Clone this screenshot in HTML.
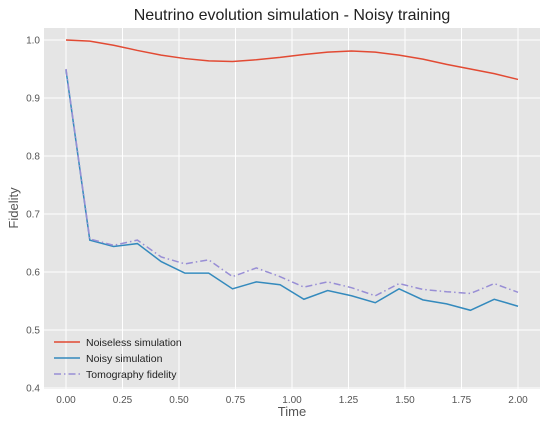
<!DOCTYPE html>
<html><head><meta charset="utf-8"><style>
body{margin:0;background:#fff;font-family:"Liberation Sans",sans-serif}
svg text{font-family:"Liberation Sans",sans-serif}
</style></head><body>
<svg id="chart" width="548" height="427" xmlns="http://www.w3.org/2000/svg">
<rect x="0" y="0" width="548" height="427" fill="#fff"/>
<text x="292" y="20" text-anchor="middle" font-size="16" fill="#222">Neutrino evolution simulation - Noisy training</text>
<rect x="44" y="28" width="496" height="361" fill="#E5E5E5"/>
<g id="grid"></g><g id="series"></g><g id="ticks"></g>
<text x="292" y="416" text-anchor="middle" font-size="13" fill="#555">Time</text>
<text x="18" y="208" text-anchor="middle" font-size="13" fill="#555" transform="rotate(-90 18 208)">Fidelity</text>
<g>
<line x1="54" y1="342" x2="80" y2="342" stroke="#E24A33" stroke-width="1.5"/>
<text x="86" y="346" font-size="10.5" fill="#222">Noiseless simulation</text>
<line x1="54" y1="358" x2="80" y2="358" stroke="#348ABD" stroke-width="1.5"/>
<text x="86" y="362" font-size="10.5" fill="#222">Noisy simulation</text>
<line x1="54" y1="374" x2="80" y2="374" stroke="#988ED5" stroke-width="1.5" stroke-dasharray="7,3,1.5,3"/>
<text x="86" y="378" font-size="10.5" fill="#222">Tomography fidelity</text>
</g>
</svg>
<script>
const times = Array.from({length:20},(_, i)=>i*2/19);
const noiseless = [1.0,0.998,0.991,0.982,0.974,0.968,0.964,0.963,0.966,0.970,0.975,0.979,0.981,0.979,0.974,0.967,0.958,0.950,0.942,0.932];
const noisy = [0.948,0.655,0.644,0.649,0.618,0.598,0.598,0.571,0.583,0.578,0.553,0.568,0.559,0.547,0.571,0.552,0.545,0.534,0.553,0.541];
const tomography = [0.950,0.657,0.646,0.655,0.626,0.614,0.621,0.592,0.607,0.592,0.574,0.583,0.573,0.559,0.580,0.570,0.566,0.563,0.580,0.565];
const xTicks = [0,0.25,0.5,0.75,1.0,1.25,1.5,1.75,2.0];
const xTickLabels = ["0.00","0.25","0.50","0.75","1.00","1.25","1.50","1.75","2.00"];
const yTicks = [0.4,0.5,0.6,0.7,0.8,0.9,1.0];
const yTickLabels = ["0.4","0.5","0.6","0.7","0.8","0.9","1.0"];
const X = v => 66 + v*226;
const Y = v => 40 + (1.0 - v)*580;
const NS = "http://www.w3.org/2000/svg";
function mk(tag, attrs, parent){const e=document.createElementNS(NS,tag);for(const k in attrs)e.setAttribute(k,attrs[k]);parent.appendChild(e);return e;}
const grid=document.getElementById('grid'), ticks=document.getElementById('ticks'), series=document.getElementById('series');
xTicks.forEach((t,i)=>{
  const l=mk('line',{x1:X(t),x2:X(t),y1:28,y2:389,stroke:'#fff','stroke-width':1},grid);
  
  
  const tx=mk('text',{x:X(t),y:403,'text-anchor':'middle','font-size':10,fill:'#555'},ticks);
  tx.textContent=xTickLabels[i];
  
  
});
yTicks.forEach((t,i)=>{
  const l=mk('line',{x1:44,x2:540,y1:Y(t),y2:Y(t),stroke:'#fff','stroke-width':1},grid);
  
  
  const tx=mk('text',{x:40,y:Y(t)+3.5,'text-anchor':'end','font-size':10,fill:'#555'},ticks);
  tx.textContent=yTickLabels[i];
  
  
});
function line(vals,color,dash,name){
  const p=mk('polyline',{points:vals.map((v,i)=>X(times[i])+','+Y(v)).join(' '),fill:'none',stroke:color,'stroke-width':1.5},series);
  if(dash)p.setAttribute('stroke-dasharray',dash);
  
  
}
line(noiseless,'#E24A33',null,'noiseless-line');
line(noisy,'#348ABD',null,'noisy-line');
line(tomography,'#988ED5','7,3,1.5,3','tomography-line');
</script>
</body></html>
